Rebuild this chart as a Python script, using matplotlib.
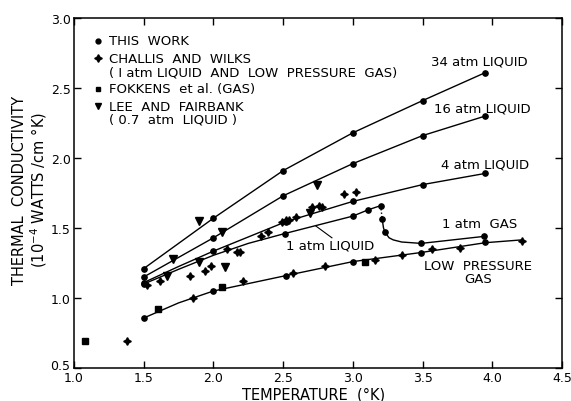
import numpy as np
import matplotlib
matplotlib.use('Agg')
import matplotlib.pyplot as plt
from matplotlib.transforms import ScaledTranslation

plt.rcParams['font.family'] = ['DejaVu Sans']

# this work: measured points for each pressure
t_34 = [1.5, 2.0, 2.5, 3.0, 3.5, 3.95]
k_34 = [1.21, 1.57, 1.91, 2.18, 2.41, 2.61]
t_16 = [1.5, 2.0, 2.5, 3.0, 3.5, 3.95]
k_16 = [1.15, 1.43, 1.73, 1.96, 2.16, 2.30]
t_4 = [1.5, 2.0, 2.52, 3.0, 3.5, 3.95]
k_4 = [1.11, 1.335, 1.545, 1.69, 1.81, 1.89]
t_liq1 = [1.5, 2.51, 3.0, 3.11, 3.2]
k_liq1 = [1.10, 1.46, 1.585, 1.63, 1.66]
t_gas1 = [3.21, 3.23, 3.49, 3.94]
k_gas1 = [1.565, 1.47, 1.39, 1.44]
t_low = [1.5, 2.0, 2.52, 3.0, 3.49, 3.95]
k_low = [0.857, 1.05, 1.16, 1.26, 1.32, 1.40]

# drawn curves
curve_4_t = [1.5, 1.75, 2.0, 2.52, 3.0, 3.5, 3.95]
curve_4_k = [1.11, 1.225, 1.335, 1.545, 1.69, 1.81, 1.89]
curve_liq1_t = [1.5, 1.75, 2.0, 2.25, 2.51, 3.0, 3.11, 3.2]
curve_liq1_k = [1.10, 1.205, 1.305, 1.39, 1.46, 1.585, 1.63, 1.66]
curve_gas1_t = [3.21, 3.22, 3.23, 3.26, 3.29, 3.35, 3.49, 3.94]
curve_gas1_k = [1.565, 1.50, 1.47, 1.43, 1.415, 1.40, 1.39, 1.44]
curve_low_t = [1.5, 1.75, 2.0, 2.52, 3.0, 3.49, 3.95, 4.21]
curve_low_k = [0.857, 0.965, 1.05, 1.16, 1.26, 1.325, 1.395, 1.415]

# Challis and Wilks
t_cw = [1.38, 1.52, 1.62, 1.83, 1.94, 1.98, 2.10, 2.17, 2.19, 2.34, 2.39,
        2.49, 2.52, 2.54, 2.59, 2.71, 2.76, 2.78, 2.94, 3.02,
        1.855, 2.21, 2.57, 2.80, 3.16, 3.35, 3.57, 3.77, 4.21]
k_cw = [0.69, 1.09, 1.12, 1.16, 1.19, 1.23, 1.35, 1.33, 1.33, 1.44, 1.47,
        1.54, 1.555, 1.56, 1.58, 1.65, 1.655, 1.65, 1.74, 1.76,
        1.0, 1.12, 1.18, 1.23, 1.27, 1.31, 1.35, 1.36, 1.41]

# Fokkens et al.
t_fk = [1.08, 1.60, 2.06, 3.09]
k_fk = [0.69, 0.92, 1.08, 1.26]

# Lee and Fairbank
t_lf = [1.67, 1.71, 1.90, 1.90, 2.06, 2.08, 2.69, 2.74]
k_lf = [1.16, 1.28, 1.55, 1.26, 1.47, 1.22, 1.61, 1.81]

fig = plt.figure(figsize=(5.71, 4.02), dpi=100)
ax = fig.add_axes([0.1296, 0.0821, 0.8546, 0.8706])

lw = 1.0
ax.plot(t_34, k_34, color='black', lw=lw)
ax.plot(t_16, k_16, color='black', lw=lw)
ax.plot(curve_4_t, curve_4_k, color='black', lw=lw)
ax.plot(curve_liq1_t, curve_liq1_k, color='black', lw=lw)
ax.plot(curve_gas1_t, curve_gas1_k, color='black', lw=lw)
ax.plot(curve_low_t, curve_low_k, color='black', lw=lw)
# jump from liquid to gas at the boiling point
ax.plot([t_liq1[-1], t_gas1[0]], [k_liq1[-1], k_gas1[0]], color='black',
        lw=1.0, ls=(0, (1, 1.5)))

dot = dict(ls='none', marker='o', color='black', ms=3.8)
for t, k in [(t_34, k_34), (t_16, k_16), (t_4, k_4), (t_liq1, k_liq1),
             (t_gas1, k_gas1), (t_low, k_low)]:
    ax.plot(t, k, **dot)

ax.plot(t_cw, k_cw, ls='none', marker=(4, 1, 0), color='black', ms=5.5)
ax.plot(t_fk, k_fk, ls='none', marker='s', color='black', ms=3.8)
ax.plot(t_lf, k_lf, ls='none', marker='v', color='black', ms=5.5)

fs = 9.5
ax.text(3.91, 2.69, '34 atm LIQUID', ha='center', va='center', fontsize=fs)
ax.text(3.93, 2.36, '16 atm LIQUID', ha='center', va='center', fontsize=fs)
ax.text(3.95, 1.96, '4 atm LIQUID', ha='center', va='center', fontsize=fs)
ax.text(3.91, 1.53, '1 atm  GAS', ha='center', va='center', fontsize=fs)
ax.text(3.90, 1.185, 'LOW  PRESSURE\nGAS', ha='center', va='center',
        fontsize=fs, linespacing=1.0)
ax.text(2.84, 1.38, '1 atm LIQUID', ha='center', va='center', fontsize=fs)
ax.plot([2.735, 2.85], [1.514, 1.43], color='black', lw=0.8)

# key
key_x = 1.17
text_x = 1.25
ax.plot([key_x], [2.836], ls='none', marker='o', color='black', ms=3.5)
ax.plot([key_x], [2.714], ls='none', marker=(4, 1, 0), color='black', ms=5.5)
ax.plot([key_x], [2.493], ls='none', marker='s', color='black', ms=3.5)
ax.plot([key_x], [2.371], ls='none', marker='v', color='black', ms=5)
ax.text(text_x, 2.836, 'THIS  WORK', va='center', fontsize=fs)
ax.text(text_x, 2.714, 'CHALLIS  AND  WILKS', va='center', fontsize=fs)
ax.text(text_x, 2.614, '( I atm LIQUID  AND  LOW  PRESSURE  GAS)', va='center', fontsize=fs)
ax.text(text_x, 2.493, 'FOKKENS  et al. (GAS)', va='center', fontsize=fs)
ax.text(text_x, 2.371, 'LEE  AND  FAIRBANK', va='center', fontsize=fs)
ax.text(text_x, 2.279, '( 0.7  atm  LIQUID )', va='center', fontsize=fs)

ax.set_xlim(1.0, 4.5)
ax.set_ylim(0.5, 3.0)
ax.set_xticks(np.arange(1.0, 4.51, 0.5))
ax.set_yticks(np.arange(0.5, 3.01, 0.5))
ax.xaxis.set_major_formatter(matplotlib.ticker.FormatStrFormatter('%.1f'))
ax.yaxis.set_major_formatter(matplotlib.ticker.FormatStrFormatter('%.1f'))
ax.tick_params(direction='in', top=True, right=True, length=5, width=1,
               labelsize=9, pad=2.5)
for s in ax.spines.values():
    s.set_linewidth(1.1)

# lift the bottom y label a little so it clears the corner x label
low_label = ax.get_yticklabels()[0]
low_label.set_transform(low_label.get_transform() +
                        ScaledTranslation(0, 3 / 72, fig.dpi_scale_trans))

fig.text(0.55, 0.018, 'TEMPERATURE  (°K)', ha='center', va='center', fontsize=10.5)
fig.text(0.035, 0.527, 'THERMAL  CONDUCTIVITY', rotation=90, ha='center',
         va='center', fontsize=10.5)
fig.text(0.067, 0.527, '(10$^{-4}$ WATTS /cm °K)', rotation=90, ha='center',
         va='center', fontsize=10.5)

fig.savefig('out.png', dpi=100)
